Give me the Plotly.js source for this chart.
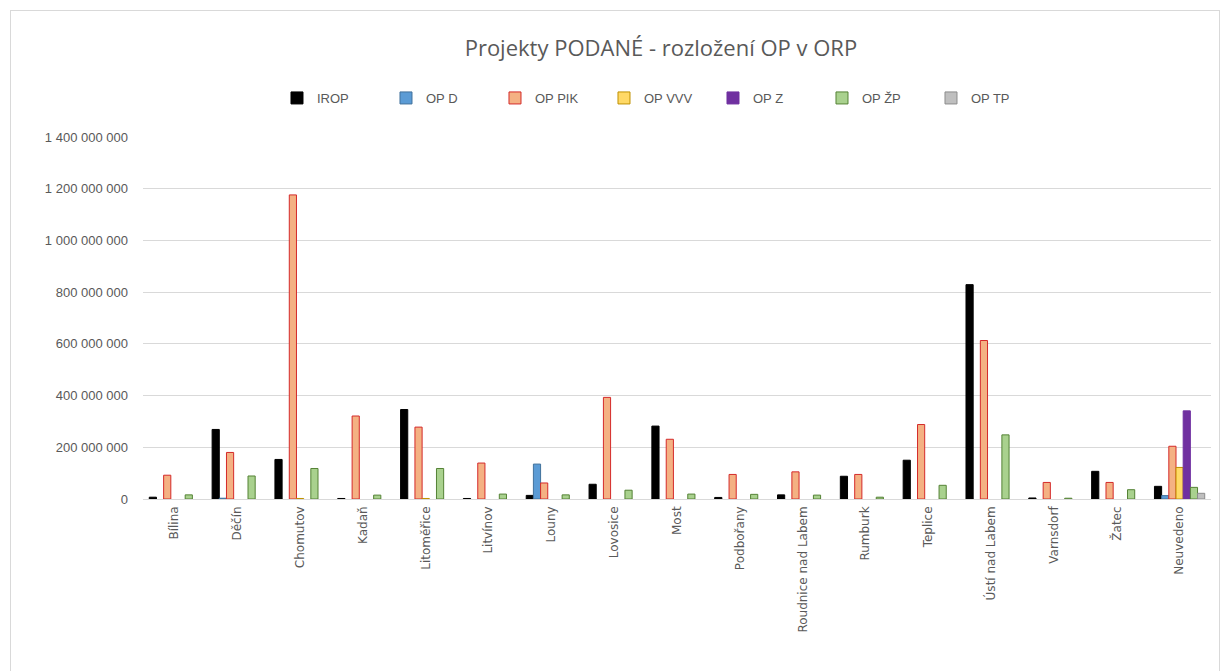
<!DOCTYPE html>
<html>
<head>
<meta charset="utf-8">
<script src="https://cdn.plot.ly/plotly-3.0.1.min.js"></script>
<style>
  html, body { margin: 0; padding: 0; background: #ffffff; overflow: hidden; }
  #frame { position: absolute; left: 10px; top: 10px; width: 1210px; height: 680px; border: 1px solid #d9d9d9; box-sizing: border-box; }
  #chart { width: 1208px; height: 678px; }
</style>
</head>
<body>
<div id="frame"><div id="chart"></div></div>
<script>
const categories = ["Bílina", "Děčín", "Chomutov", "Kadaň", "Litoměřice", "Litvínov", "Louny", "Lovosice", "Most", "Podbořany", "Roudnice nad Labem", "Rumburk", "Teplice", "Ústí nad Labem", "Varnsdorf", "Žatec", "Neuvedeno"];

const seriesNames = ["IROP", "OP D", "OP PIK", "OP VVV", "OP Z", "OP ŽP", "OP TP"];

// null = no projects (no bar drawn)
const irop  = [7e6, 269e6, 153e6, 2e6, 346e6, 2e6, 14e6, 57e6, 282e6, 6e6, 16e6, 88e6, 150e6, 829e6, 4e6, 107e6, 49e6];
const opD   = [null, 3e6, null, null, null, null, 135e6, null, null, null, null, null, null, null, null, null, 13e6];
const opPIK = [92e6, 180e6, 1176e6, 321e6, 278e6, 139e6, 62e6, 393e6, 231e6, 95e6, 105e6, 95e6, 288e6, 613e6, 64e6, 64e6, 204e6];
const opVVV = [null, null, 2e6, null, 2e6, null, null, null, null, null, null, null, null, null, null, null, 122e6];
const opZ   = [null, null, null, null, null, null, null, null, null, null, null, null, null, null, null, null, 341e6];
const opZP  = [16e6, 89e6, 118e6, 15e6, 118e6, 19e6, 16e6, 34e6, 19e6, 18e6, 15e6, 7e6, 53e6, 248e6, 3e6, 36e6, 45e6];
const opTP  = [null, null, null, null, null, null, null, null, null, null, null, null, null, null, null, null, 22e6];

const yTickVals = [0, 200e6, 400e6, 600e6, 800e6, 1000e6, 1200e6, 1400e6];

const seriesValues = [irop, opD, opPIK, opVVV, opZ, opZP, opTP];
const fills = ["#000000", "#5b9bd5", "#f4b183", "#ffd966", "#7030a0", "#a9d18e", "#bfbfbf"];
const borders = ["#000000", "#41719c", "#d42a2a", "#bf9000", "#7030a0", "#548235", "#8c8c8c"];

const traces = seriesNames.map((name, i) => ({
  type: "bar",
  name: name,
  x: categories,
  y: seriesValues[i],
  marker: { color: fills[i], line: { color: borders[i], width: 1 } },
  hoverinfo: "x+y+name"
}));

const layout = {
  width: 1208,
  height: 678,
  paper_bgcolor: "#ffffff",
  plot_bgcolor: "#ffffff",
  separators: ", ",
  font: { family: "Liberation Sans, Arial, sans-serif", color: "#595959", size: 13 },
  margin: { l: 132, r: 8, t: 126, b: 190 },
  barmode: "group",
  bargap: 0.2,
  bargroupgap: 0,
  title: {
    text: "Projekty PODANÉ - rozložení OP v ORP",
    font: { family: "Open Sans, Liberation Sans, sans-serif", size: 22, color: "#595959" },
    xref: "container", x: 0.538, xanchor: "center",
    yref: "container", y: 1 - 37 / 678, yanchor: "middle"
  },
  legend: {
    orientation: "h",
    xref: "container", x: 0.536, xanchor: "center",
    yref: "container", y: 1 - 87 / 678, yanchor: "middle",
    itemwidth: 30,
    entrywidth: 64,
    font: { family: "Liberation Sans, Arial, sans-serif", size: 13, color: "#595959" },
    traceorder: "normal"
  },
  xaxis: {
    type: "category",
    tickangle: -90,
    tickfont: { family: "DejaVu Sans, sans-serif", size: 12, color: "#595959" },
    showgrid: false,
    showline: false,
    ticks: "",
    ticklabelstandoff: 4,
    fixedrange: true
  },
  yaxis: {
    range: [0, 1400e6],
    tickvals: yTickVals,
    tickformat: ",.0f",
    gridcolor: "#d9d9d9",
    gridwidth: 1,
    zeroline: true,
    zerolinecolor: "#d9d9d9",
    zerolinewidth: 1,
    showline: false,
    ticks: "",
    ticklabelstandoff: 14,
    tickfont: { family: "Liberation Sans, Arial, sans-serif", size: 13, color: "#595959" },
    fixedrange: true
  },
  showlegend: true
};

Plotly.newPlot("chart", traces, layout, { displayModeBar: false, staticPlot: true });
</script>
</body>
</html>
